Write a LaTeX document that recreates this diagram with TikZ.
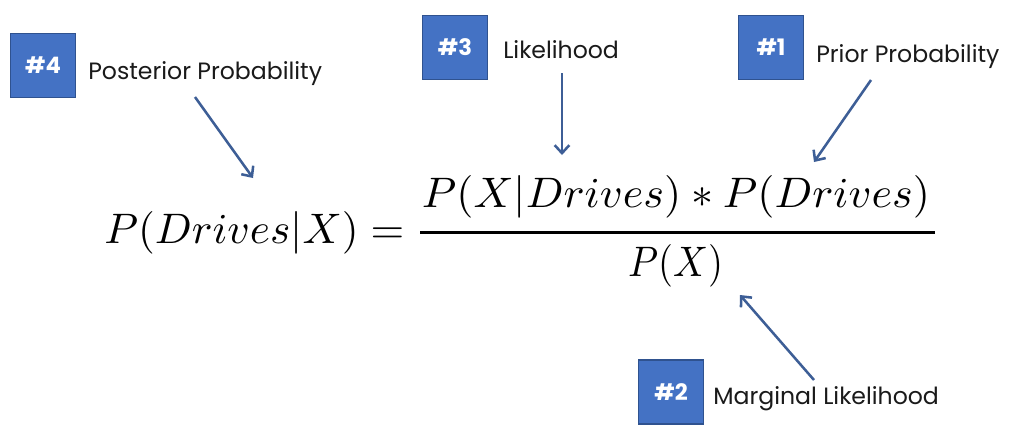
\documentclass[tikz,border=0pt]{standalone}
\usepackage{fontspec}
\setmainfont{Poppins}
\usepackage{amsmath}
\usepackage{graphicx}
\usetikzlibrary{arrows.meta}
\definecolor{boxfill}{HTML}{4472C4}
\definecolor{boxline}{HTML}{2F528F}
\definecolor{arrowc}{HTML}{3D5E96}
\definecolor{lbltext}{HTML}{1A1A1A}
\begin{document}
\begin{tikzpicture}[x=0.75pt,y=-0.75pt,
  numbox/.style={draw=boxline, line width=1pt, fill=boxfill, minimum width=48.75pt, minimum height=48pt, inner sep=0pt, text=white, font=\bfseries\fontsize{17}{20}\selectfont},
  lbl/.style={anchor=base west, inner sep=0pt, font=\fontsize{17.7}{20}\selectfont, text=lbltext},
  pointer/.style={draw=arrowc, line width=1.9pt, -{Straight Barb[length=6pt,width=11pt]}},
  eq/.style={inner sep=0pt}]
\useasboundingbox (0,0) rectangle (1022,440);
\fill[white] (0,0) rectangle (1022,440);

% equation
\node[eq, anchor=west] (lhs) at (104,233) {\resizebox*{225pt}{32pt}{$P(Drives|X)=$}};
\node[eq] (num) at (676,197) {\resizebox*{381pt}{32pt}{$P(X|Drives)\ast P(Drives)$}};
\node[eq] (den) at (675.5,265.5) {\resizebox*{71.25pt}{32pt}{$P(X)$}};
\coordinate (barl) at (420,232);
\coordinate (barr) at (935,232);
\draw[line width=2.25pt] (barl) -- (barr);

% #4
\node[numbox] (b4) at (43,65.5) {\#4};
\node[lbl] (t4) at (88,79) {Posterior Probability};
\coordinate (a4s) at (195,97);
\coordinate (a4e) at (253,178);
\draw[pointer] (a4s) -- (a4e);

% #3
\node[numbox] (b3) at (455,47.5) {\#3};
\node[lbl] (t3) at (503,58) {Likelihood};
\coordinate (a3s) at (562,73);
\coordinate (a3e) at (562,155);
\draw[pointer] (a3s) -- (a3e);

% #1
\node[numbox] (b1) at (771,47.5) {\#1};
\node[lbl] (t1) at (816,62) {Prior Probability};
\coordinate (a1s) at (871,80);
\coordinate (a1e) at (814,162);
\draw[pointer] (a1s) -- (a1e);

% #2
\node[numbox] (b2) at (671,392) {\#2};
\node[lbl] (t2) at (713,404) {Marginal Likelihood};
\coordinate (a2s) at (814,380);
\coordinate (a2e) at (740,295);
\draw[pointer] (a2s) -- (a2e);
\end{tikzpicture}
\end{document}
